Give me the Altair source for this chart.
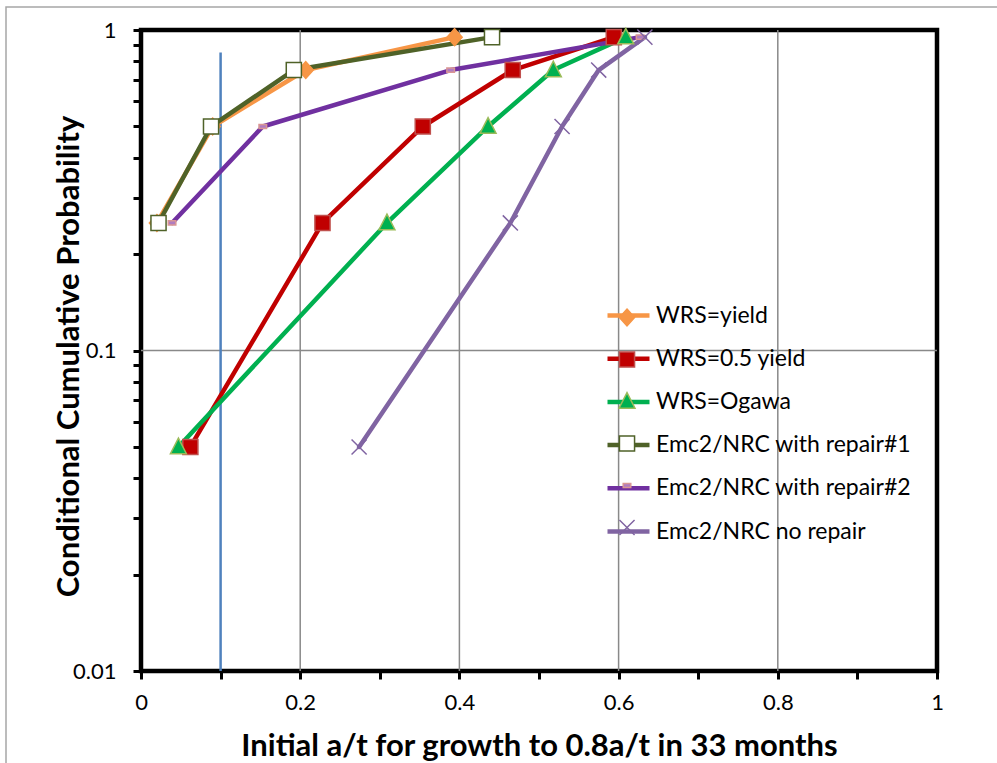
import altair as alt
import pandas as pd

# ---------------- data ----------------
series_names = [
    "WRS=yield",
    "WRS=0.5 yield",
    "WRS=Ogawa",
    "Emc2/NRC with repair#1",
    "Emc2/NRC with repair#2",
    "Emc2/NRC no repair",
]

at_wrs_yield = [0.020, 0.090, 0.207, 0.394]
prob_wrs_yield = [0.25, 0.50, 0.75, 0.95]

at_wrs_half = [0.062, 0.228, 0.354, 0.467, 0.594]
prob_wrs_half = [0.05, 0.25, 0.50, 0.75, 0.95]

at_wrs_ogawa = [0.047, 0.309, 0.436, 0.518, 0.609]
prob_wrs_ogawa = [0.05, 0.25, 0.50, 0.75, 0.95]

at_repair1 = [0.022, 0.088, 0.192, 0.441]
prob_repair1 = [0.25, 0.50, 0.75, 0.95]

at_repair2 = [0.039, 0.153, 0.389, 0.627]
prob_repair2 = [0.25, 0.50, 0.75, 0.95]

at_norepair = [0.274, 0.464, 0.529, 0.575, 0.633]
prob_norepair = [0.05, 0.25, 0.50, 0.75, 0.95]

# vertical reference line at a/t = 0.1
ref_x = [0.1]
ref_y_low = [0.01]
ref_y_high = [0.85]

# grid lines and ticks
grid_x = [0.2, 0.4, 0.6, 0.8]
grid_y = [0.1]
x_ticks = [0.0, 0.1, 0.2, 0.3, 0.4, 0.5, 0.6, 0.7, 0.8, 0.9, 1.0]
y_ticks = [0.01, 0.02, 0.03, 0.04, 0.05, 0.06, 0.07, 0.08, 0.09,
           0.1, 0.2, 0.3, 0.4, 0.5, 0.6, 0.7, 0.8, 0.9, 1.0]

# ---------------- styling ----------------
line_colors = ["#F79646", "#C00000", "#00B050", "#4F6228", "#7030A0", "#8064A2"]
marker_fill = ["#F79646", "#C00000", "#00B050", "#FFFFFF", "#B07CC0", "transparent"]
marker_stroke = ["#F79646", "#C0504D", "#9BBB59", "#4F6228", "#D99694", "#8064A2"]
marker_shapes = [
    "M0,-0.4L0.36,0L0,0.4L-0.36,0Z",
    "M-0.36,-0.36H0.36V0.36H-0.36Z",
    "M0,-0.42L0.38,0.32H-0.38Z",
    "M-0.36,-0.36H0.36V0.36H-0.36Z",
    "M-0.18,-0.1H0.18V0.1H-0.18Z",
    "M-0.36,-0.36L0.36,0.36M-0.36,0.36L0.36,-0.36",
]

FONT = "Lato"
SYM = 1764  # 42 px legend symbol / marker box

rows = []
for name, xs, ps in [
    (series_names[0], at_wrs_yield, prob_wrs_yield),
    (series_names[1], at_wrs_half, prob_wrs_half),
    (series_names[2], at_wrs_ogawa, prob_wrs_ogawa),
    (series_names[3], at_repair1, prob_repair1),
    (series_names[4], at_repair2, prob_repair2),
    (series_names[5], at_norepair, prob_norepair),
]:
    for xv, pv in zip(xs, ps):
        rows.append({"series": name, "series2": name, "at": xv, "prob": pv})
df = pd.DataFrame(rows)

df_gx = pd.DataFrame({"gx": grid_x})
df_gy = pd.DataFrame({"gy": grid_y})
df_ref = pd.DataFrame({"rx": ref_x, "ry1": ref_y_low, "ry2": ref_y_high})
df_frame = pd.DataFrame({"frame": [0]})

x_scale = alt.Scale(domain=[0, 1], nice=False, zero=False)
y_scale = alt.Scale(type="log", domain=[0.01, 1], nice=False)

X_TITLE = "Initial a/t for growth to 0.8a/t in 33 months"
Y_TITLE = "Conditional Cumulative Probability"

x_axis = alt.Axis(
    values=x_ticks,
    format=".1~f",
    labelExpr="abs(datum.value*5 - round(datum.value*5)) < 0.001 ? datum.label : ''",
    title=X_TITLE,
    titleFont=FONT, titleFontSize=31, titleFontWeight="bold", titleColor="black",
    titleX=398, titleY=84, titleAlign="center", titleBaseline="alphabetic",
    labelFont=FONT, labelFontSize=22, labelColor="black", labelPadding=13,
    labelOverlap=False, labelFlush=False,
    tickSize=8, tickWidth=3, tickColor="black",
    domain=False, grid=False,
)
y_axis = alt.Axis(
    values=y_ticks,
    format="~g",
    labelExpr="(datum.value == 0.01 || datum.value == 0.1 || datum.value == 1) ? datum.label : ''",
    title=Y_TITLE,
    titleFont=FONT, titleFontSize=31, titleFontWeight="bold", titleColor="black",
    titleX=-63, titleY=326, titleAlign="center", titleBaseline="alphabetic", titleAngle=270,
    labelFont=FONT, labelFontSize=22, labelColor="black", labelPadding=17,
    labelOverlap=False, labelBaseline="middle",
    tickSize=8, tickWidth=3, tickColor="black",
    domain=False, grid=False,
)

legend_common = dict(
    orient="none", legendX=464, title=None,
    symbolSize=SYM, padding=0, offset=0,
    labelFont=FONT, labelFontSize=23, labelOffset=4, labelLimit=400,
    symbolOpacity=1,
)

line_legend = alt.Legend(symbolType="stroke", symbolStrokeWidth=4.5,
                         labelColor="black", legendY=262, rowPadding=7.2,
                         **legend_common)
point_legend = alt.Legend(symbolStrokeWidth=1.5, labelColor="black", labelOpacity=0,
                          labelExpr="' '",
                          legendY=265.5, rowPadding=8.0, **legend_common)

frame = alt.Chart(df_frame).mark_rect(
    fill="transparent", stroke="#A6A6A6", strokeWidth=1.5
).encode(
    x=alt.value(-135), y=alt.value(-23), x2=alt.value(900), y2=alt.value(800)
)
grid_v = alt.Chart(df_gx).mark_rule(color="#898989", strokeWidth=1.5).encode(
    x=alt.X("gx:Q", scale=x_scale, axis=x_axis)
)
grid_h = alt.Chart(df_gy).mark_rule(color="#898989", strokeWidth=1.5).encode(
    y=alt.Y("gy:Q", scale=y_scale, axis=y_axis)
)
ref_line = alt.Chart(df_ref).mark_rule(color="#4F81BD", strokeWidth=2.5).encode(
    x=alt.X("rx:Q", scale=x_scale, axis=x_axis),
    y=alt.Y("ry1:Q", scale=y_scale, axis=y_axis),
    y2="ry2:Q",
)
lines = alt.Chart(df).mark_line(strokeWidth=4.5, strokeJoin="round", strokeCap="round").encode(
    x=alt.X("at:Q", scale=x_scale, axis=x_axis),
    y=alt.Y("prob:Q", scale=y_scale, axis=y_axis),
    color=alt.Color("series:N", sort=series_names,
                    scale=alt.Scale(range=line_colors), legend=line_legend),
)
points = alt.Chart(df).mark_point(size=SYM, opacity=1, strokeWidth=1.5).encode(
    x=alt.X("at:Q", scale=x_scale, axis=x_axis),
    y=alt.Y("prob:Q", scale=y_scale, axis=y_axis),
    shape=alt.Shape("series2:N",
                    scale=alt.Scale(domain=series_names, range=marker_shapes),
                    legend=point_legend),
    fill=alt.Fill("series2:N",
                  scale=alt.Scale(domain=series_names, range=marker_fill),
                  legend=point_legend),
    stroke=alt.Stroke("series2:N",
                      scale=alt.Scale(domain=series_names, range=marker_stroke),
                      legend=point_legend),
)

chart = (
    alt.layer(frame, grid_v, grid_h, ref_line, lines, points)
    .properties(
        width=796, height=641,
        autosize=alt.AutoSizeParams(type="none"),
        padding={"left": 141, "top": 30, "right": 60, "bottom": 92},
        background="white",
    )
    .configure_view(stroke="black", strokeWidth=4.5)
)

chart.save("out.html", embed_options={"renderer": "svg", "actions": False})
